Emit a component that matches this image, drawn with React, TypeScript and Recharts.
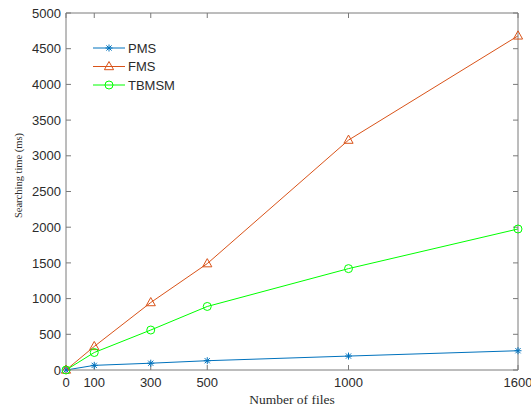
import React from "react";
import { LineChart, Line, XAxis, YAxis, Legend, Label } from "recharts";

const fileCounts = [0, 100, 300, 500, 1000, 1600];
const pmsTimes = [0, 65, 95, 130, 195, 270];
const fmsTimes = [0, 330, 945, 1490, 3220, 4680];
const tbmsmTimes = [0, 245, 560, 890, 1420, 1975];
const xTicks = [0, 100, 300, 500, 1000, 1600];
const yTicks = [0, 500, 1000, 1500, 2000, 2500, 3000, 3500, 4000, 4500, 5000];
const seriesNames = ["PMS", "FMS", "TBMSM"];

const data = fileCounts.map((n, i) => ({
  n,
  PMS: pmsTimes[i],
  FMS: fmsTimes[i],
  TBMSM: tbmsmTimes[i],
}));

const AXIS = "#7a7a7a";
const TEXT = "#2b2b2b";
const C_PMS = "#0072BD";
const C_FMS = "#D95319";
const C_TB = "#00FF00";

const Star = (props: any) => {
  const { cx, cy, color } = props;
  const s = 3.5;
  const d = 2.6;
  return (
    <g stroke={color} strokeWidth={1} fill="none">
      <line x1={cx} y1={cy - s} x2={cx} y2={cy + s} />
      <line x1={cx - s} y1={cy} x2={cx + s} y2={cy} />
      <line x1={cx - d} y1={cy - d} x2={cx + d} y2={cy + d} />
      <line x1={cx - d} y1={cy + d} x2={cx + d} y2={cy - d} />
    </g>
  );
};

const Tri = (props: any) => {
  const { cx, cy, color } = props;
  return (
    <path
      d={`M${cx},${cy - 5} L${cx - 4.6},${cy + 3.2} L${cx + 4.6},${cy + 3.2} Z`}
      stroke={color}
      strokeWidth={1}
      fill="none"
    />
  );
};

const Circ = (props: any) => {
  const { cx, cy, color } = props;
  return <circle cx={cx} cy={cy} r={4} stroke={color} strokeWidth={1} fill="none" />;
};

const markerFor = (name: string) => {
  if (name === "PMS") return Star;
  if (name === "FMS") return Tri;
  return Circ;
};

const LegendContent = (props: any) => {
  const payload = (props.payload || [])
    .filter((p: any) => seriesNames.includes(p.value))
    .slice()
    .sort((a: any, b: any) => seriesNames.indexOf(a.value) - seriesNames.indexOf(b.value));
  return (
    <svg width={110} height={60} style={{ display: "block" }}>
      {payload.map((p: any, i: number) => {
        const y = 10 + i * 18.5;
        const M = markerFor(p.value);
        return (
          <g key={p.value}>
            <line x1={3} y1={y} x2={35} y2={y} stroke={p.color} strokeWidth={1} />
            <M cx={19} cy={y} color={p.color} />
            <text
              x={38}
              y={y}
              dy="0.36em"
              fontFamily="'Liberation Sans', Arial, sans-serif"
              fontSize={13}
              fill={TEXT}
            >
              {p.value}
            </text>
          </g>
        );
      })}
    </svg>
  );
};

const NoTick = () => <g />;

const tickFont = { fontFamily: "'Liberation Sans', Arial, sans-serif", fontSize: 13, fill: TEXT };

export default function App() {
  return (
    <div style={{ position: "absolute", left: 0, top: 0, background: "#fff" }}>
      <LineChart
        width={531}
        height={412}
        data={data}
        margin={{ top: 13, right: 13, left: 0, bottom: 0 }}
      >
        <XAxis
          dataKey="n"
          type="number"
          domain={[0, 1600]}
          ticks={xTicks}
          interval={0}
          height={42}
          tickLine={false}
          tickSize={0}
          tickMargin={8}
          axisLine={{ stroke: AXIS }}
          tick={tickFont}
        >
          <Label
            value="Number of files"
            position="insideBottom"
            offset={8}
            style={{ fontFamily: "'Liberation Serif', 'Times New Roman', serif", fontSize: 13.5, fill: TEXT }}
          />
        </XAxis>
        <XAxis
          xAxisId="bt"
          dataKey="n"
          type="number"
          domain={[0, 1600]}
          ticks={xTicks}
          interval={0}
          orientation="bottom"
          mirror
          tick={NoTick}
          tickSize={5}
          axisLine={false}
          tickLine={{ stroke: AXIS }}
        />
        <XAxis
          xAxisId="top"
          dataKey="n"
          type="number"
          domain={[0, 1600]}
          ticks={xTicks}
          interval={0}
          orientation="top"
          mirror
          tick={NoTick}
          tickSize={5}
          axisLine={{ stroke: AXIS }}
          tickLine={{ stroke: AXIS }}
        />
        <YAxis
          type="number"
          domain={[0, 5000]}
          ticks={yTicks}
          interval={0}
          width={66}
          tickLine={false}
          tickSize={0}
          tickMargin={5}
          axisLine={{ stroke: AXIS }}
          tick={tickFont}
        >
          <Label
            content={(p: any) => {
              const vb = p.viewBox || { x: 0, y: 13, width: 66, height: 357 };
              const x = vb.x + 18;
              const y = vb.y + vb.height / 2 - 16;
              return (
                <text
                  x={x}
                  y={y}
                  transform={`rotate(-90, ${x}, ${y})`}
                  textAnchor="middle"
                  dominantBaseline="central"
                  fontFamily="'Liberation Serif', 'Times New Roman', serif"
                  fontSize={10.5}
                  fill={TEXT}
                >
                  Searching time (ms)
                </text>
              );
            }}
          />
        </YAxis>
        <YAxis
          yAxisId="lt"
          type="number"
          domain={[0, 5000]}
          ticks={yTicks}
          interval={0}
          orientation="left"
          mirror
          tick={NoTick}
          tickSize={5}
          axisLine={false}
          tickLine={{ stroke: AXIS }}
        />
        <YAxis
          yAxisId="right"
          type="number"
          domain={[0, 5000]}
          ticks={yTicks}
          interval={0}
          orientation="right"
          mirror
          tick={NoTick}
          tickSize={5}
          axisLine={{ stroke: AXIS }}
          tickLine={{ stroke: AXIS }}
        />
        <Legend
          layout="vertical"
          align="center"
          verticalAlign="middle"
          content={<LegendContent />}
          wrapperStyle={{ left: 90, top: 38, width: 110, height: 60 }}
        />
        <Line
          xAxisId="top"
          yAxisId="right"
          dataKey="PMS"
          name="hidden-top"
          stroke="none"
          dot={false}
          activeDot={false}
          legendType="none"
          isAnimationActive={false}
        />
        <Line
          xAxisId="bt"
          yAxisId="lt"
          dataKey="PMS"
          name="hidden-bottom"
          stroke="none"
          dot={false}
          activeDot={false}
          legendType="none"
          isAnimationActive={false}
        />
        <Line
          dataKey="PMS"
          name="PMS"
          stroke={C_PMS}
          strokeWidth={1}
          isAnimationActive={false}
          dot={(p: any) => <Star key={`p${p.index}`} cx={p.cx} cy={p.cy} color={C_PMS} />}
        />
        <Line
          dataKey="FMS"
          name="FMS"
          stroke={C_FMS}
          strokeWidth={1}
          isAnimationActive={false}
          dot={(p: any) => <Tri key={`f${p.index}`} cx={p.cx} cy={p.cy} color={C_FMS} />}
        />
        <Line
          dataKey="TBMSM"
          name="TBMSM"
          stroke={C_TB}
          strokeWidth={1}
          isAnimationActive={false}
          dot={(p: any) => <Circ key={`t${p.index}`} cx={p.cx} cy={p.cy} color={C_TB} />}
        />
      </LineChart>
    </div>
  );
}
